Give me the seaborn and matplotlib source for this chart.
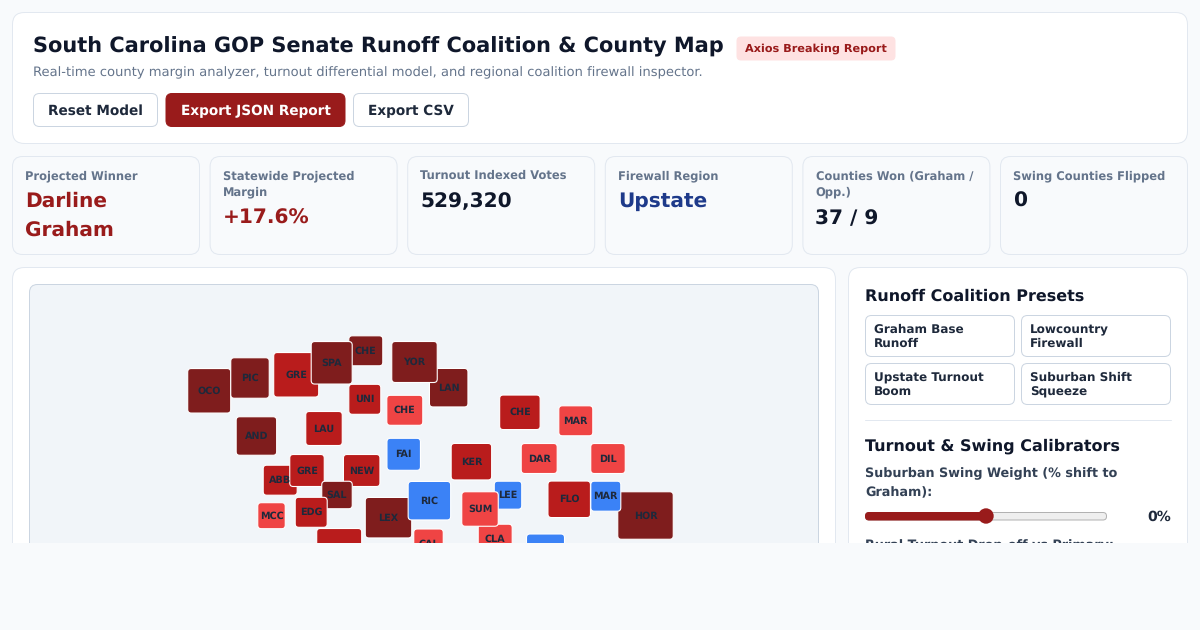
#!/usr/bin/env python3
"""
South Carolina runoff dashboard, county tile map and panels
"""

import pandas as pd
import matplotlib.pyplot as plt
import seaborn as sns
from matplotlib.patches import FancyBboxPatch, Rectangle, Circle
from matplotlib.path import Path

# Header
title = 'South Carolina GOP Senate Runoff Coalition & County Map'
badge = 'Axios Breaking Report'
subtitle = 'Real-time county margin analyzer, turnout differential model, and regional coalition firewall inspector.'
buttons = ['Reset Model', 'Export JSON Report', 'Export CSV']

# KPI cards
kpi_labels = ['Projected Winner', 'Statewide Projected\nMargin', 'Turnout Indexed Votes',
              'Firewall Region', 'Counties Won (Graham /\nOpp.)', 'Swing Counties Flipped']
kpi_values = ['Darline\nGraham', '+17.6%', '529,320', 'Upstate', '37 / 9', '0']

# County tiles, in draw order (map units)
county_names = ['OCO', 'PIC', 'GRE', 'CHE', 'SPA', 'LAN', 'YOR', 'UNI', 'CHE', 'AND', 'LAU', 'FAI',
                'ABB', 'GRE', 'NEW', 'SAL', 'MCC', 'EDG', 'LEX', 'RIC', 'AIK', 'CAL',
                'CHE', 'MAR', 'KER', 'DAR', 'DIL', 'LEE', 'CLA', 'SUM', 'FLO', 'HOR', 'MAR', 'WIL']
county_x = [180.2, 221.0, 267.2, 336.8, 302.7, 419.7, 385.5, 335.8, 375.8, 227.4, 295.0, 374.7,
            251.2, 278.0, 332.7, 308.0, 242.5, 282.2, 359.5, 400.4, 310.2, 399.5,
            490.9, 546.8, 442.4, 510.2, 579.0, 479.0, 466.2, 451.0, 540.2, 616.5, 576.8, 516.5]
county_y = [106.8, 94.0, 90.8, 66.8, 78.8, 103.7, 78.0, 115.3, 126.3, 152.0, 144.5, 170.3,
            196.2, 186.5, 186.5, 211.0, 231.7, 228.3, 233.7, 216.7, 265.0, 260.0,
            128.3, 136.8, 177.7, 174.5, 174.5, 211.2, 255.2, 225.0, 215.3, 231.5, 212.2, 268.0]
county_w = [42.0, 37.5, 44.0, 33.0, 40.0, 37.5, 44.5, 31.0, 35.0, 39.5, 35.5, 32.5,
            33.0, 33.5, 35.5, 29.5, 26.5, 31.0, 45.5, 41.5, 44.0, 28.5,
            39.5, 33.0, 39.5, 35.0, 33.5, 26.5, 33.0, 35.5, 41.5, 54.5, 29.0, 37.0]
county_h = [43.5, 39.5, 43.5, 29.0, 41.5, 37.5, 40.0, 29.0, 29.0, 37.5, 33.0, 31.0,
            29.0, 31.0, 31.0, 26.5, 25.0, 29.0, 39.5, 37.5, 40.0, 29.0,
            33.5, 29.0, 35.5, 29.0, 29.0, 27.0, 29.0, 33.5, 35.5, 46.5, 29.0, 35.0]
county_tier = ['safe', 'safe', 'strong', 'safe', 'safe', 'safe', 'safe', 'strong', 'lean', 'safe', 'strong', 'opp',
               'strong', 'strong', 'strong', 'safe', 'lean', 'strong', 'safe', 'opp', 'strong', 'lean',
               'strong', 'lean', 'strong', 'lean', 'lean', 'opp', 'lean', 'lean', 'strong', 'safe', 'opp', 'opp']

# Right hand panel
preset_title = 'Runoff Coalition Presets'
presets = ['Graham Base\nRunoff', 'Lowcountry\nFirewall', 'Upstate Turnout\nBoom', 'Suburban Shift\nSqueeze']
calib_title = 'Turnout & Swing Calibrators'
slider_label = 'Suburban Swing Weight (% shift to\nGraham):'
slider_range = [-20, 20]
slider_value = 0
next_label = 'Rural Turnout Drop-off vs Primary:'

tier_palette = {'safe': '#7f1d1d', 'strong': '#b91c1c', 'lean': '#ef4444', 'opp': '#3b82f6'}

INK = '#0f172a'
SLATE = '#1e293b'
MUTED = '#64748b'
BORDER = '#e2e8f0'
LINE = '#cbd5e1'
RED = '#991b1b'
BLUE = '#1e3a8a'
PAGE = '#f8fafc'


def px(size):
    """CSS pixels to points at dpi 100"""
    return size * 0.72


def box(ax, x0, y0, x1, y1, radius, face, edge=None, lw=1.0, zorder=1):
    patch = FancyBboxPatch((x0 + radius, y0 + radius), x1 - x0 - 2 * radius, y1 - y0 - 2 * radius,
                           boxstyle=f'round,pad={radius},rounding_size={radius}',
                           facecolor=face, edgecolor=edge if edge else face,
                           linewidth=lw * 0.72, zorder=zorder)
    ax.add_patch(patch)


def tile_marker(w, h, r=3.5):
    """Rounded rectangle path for one county tile"""
    a, b = w / 2, h / 2
    verts = [(-a + r, -b), (a - r, -b), (a, -b), (a, -b + r), (a, b - r), (a, b), (a - r, b),
             (-a + r, b), (-a, b), (-a, b - r), (-a, -b + r), (-a, -b), (-a + r, -b)]
    codes = [Path.MOVETO, Path.LINETO, Path.CURVE3, Path.CURVE3, Path.LINETO, Path.CURVE3, Path.CURVE3,
             Path.LINETO, Path.CURVE3, Path.CURVE3, Path.LINETO, Path.CURVE3, Path.CURVE3]
    return Path(verts, codes)


def draw_page(ax):
    # Header card
    box(ax, 12.5, 12.5, 1187.5, 143.5, 12, 'white', BORDER)
    ax.text(33, 52, title, fontsize=px(20.83), fontweight='bold', color=INK)
    box(ax, 737, 37, 895, 60, 4, '#fee2e2')
    ax.text(816, 52, badge, fontsize=px(11.2), fontweight='bold', color=RED, ha='center')
    ax.text(33, 76, subtitle, fontsize=px(13.08), color=MUTED)

    spans = [(33.5, 157.5), (166, 345), (353.5, 468.5)]
    for i, (name, (x0, x1)) in enumerate(zip(buttons, spans)):
        solid = i == 1
        box(ax, x0, 93.5, x1, 126.5, 6, RED if solid else 'white', RED if solid else LINE)
        ax.text((x0 + x1) / 2, 115, name, fontsize=px(13.6), fontweight='bold',
                color='white' if solid else SLATE, ha='center')

    # KPI cards
    kpi_colors = [RED, RED, INK, BLUE, INK, INK]
    for i, (label, value) in enumerate(zip(kpi_labels, kpi_values)):
        x0 = 12.5 + i * 197.6
        box(ax, x0, 156.5, x0 + 187, 254.5, 10, PAGE, BORDER)
        lines = label.split('\n')
        for j, line in enumerate(lines):
            ax.text(x0 + 12.8, 179 + j * 16.7, line, fontsize=px(11.52), fontweight='bold', color=MUTED)
        base = 207 + (len(lines) - 1) * 16.7
        for j, line in enumerate(value.split('\n')):
            ax.text(x0 + 12.5, base + j * 29, line, fontsize=px(20.2), fontweight='bold', color=kpi_colors[i])

    # Map card and map panel
    box(ax, 12.5, 267.5, 835.5, 640, 12, 'white', BORDER)
    box(ax, 29.5, 284.5, 818.5, 640, 8, '#f1f5f9', LINE)

    # Right card
    box(ax, 848.5, 267.5, 1187.5, 640, 12, 'white', BORDER)
    ax.text(865, 300.5, preset_title, fontsize=px(16), fontweight='bold', color=INK)
    for i, name in enumerate(presets):
        x0 = 865.5 + (i % 2) * 156
        y0 = 315.5 + (i // 2) * 48
        box(ax, x0, y0, x0 + 149, y0 + 41, 6, 'white', LINE)
        for j, line in enumerate(name.split('\n')):
            ax.text(x0 + 8.5, y0 + 17.5 + j * 14, line, fontsize=px(12.06), fontweight='bold', color=SLATE)

    ax.plot([865, 1171], [419.5, 419.5], color=BORDER, lw=0.72)
    ax.text(865, 450.3, calib_title, fontsize=px(16), fontweight='bold', color=INK)
    for j, line in enumerate(slider_label.split('\n')):
        ax.text(865, 477.5 + j * 19, line, fontsize=px(12.8), fontweight='bold', color='#334155')

    # Slider, thumb placed from the value
    x0, x1 = 865.5, 1106.5
    frac = (slider_value - slider_range[0]) / (slider_range[1] - slider_range[0])
    thumb = x0 + frac * (x1 - x0)
    box(ax, x0, 512.5, x1, 520, 3.5, '#efefef', '#b2b2b2')
    box(ax, x0, 512.5, thumb, 520, 3.5, RED)
    ax.add_patch(Circle((thumb, 516), 7.7, facecolor=RED, edgecolor='none', zorder=2))
    ax.text(1171, 521, f'{slider_value}%', fontsize=px(14), fontweight='bold', color=SLATE, ha='right')
    ax.text(865, 549, next_label, fontsize=px(12.8), fontweight='bold', color='#334155')

    # The screenshot stops here
    ax.add_patch(Rectangle((0, 543), 1200, 87, facecolor=PAGE, edgecolor='none', zorder=5))


def draw_map(ax, df):
    # one marker per tile so each keeps its own aspect
    markers = {row.uid: tile_marker(row.w + 1, row.h + 1) for row in df.itertuples()}
    side = ((df[['w', 'h']].max(axis=1) + 1) * 0.72) ** 2
    df = df.assign(area=side)
    sns.scatterplot(data=df, x='x', y='y', hue='tier', palette=tier_palette,
                    style='uid', markers=markers,
                    size='area', sizes={v: v for v in df['area'].unique()},
                    edgecolor='white', linewidth=0.8, alpha=1.0, legend=False, ax=ax, zorder=2)
    for row in df.itertuples():
        ax.text(row.x, row.y + 0.3, row.name, fontsize=px(9.6), fontweight='bold', color=SLATE,
                ha='center', va='center', clip_on=True, zorder=3 + row.Index * 0.001)
    ax.set_xlim(0, 790)
    ax.set_ylim(259, 0)
    ax.set_axis_off()


def main():
    sns.set_theme(style='white')
    plt.rcParams['font.family'] = ['DejaVu Sans']
    plt.rcParams['text.hinting'] = 'none'
    plt.rcParams['text.hinting_factor'] = 8

    df = pd.DataFrame({'name': county_names, 'x': county_x, 'y': county_y,
                       'w': county_w, 'h': county_h, 'tier': county_tier})
    df['uid'] = [f'{n}{i}' for i, n in enumerate(df['name'])]

    fig = plt.figure(figsize=(12, 6.3), dpi=100, facecolor=PAGE)
    page = fig.add_axes([0, 0, 1, 1])
    page.set_xlim(0, 1200)
    page.set_ylim(630, 0)
    page.set_axis_off()
    draw_page(page)

    tiles = fig.add_axes([29 / 1200, 1 - 543 / 630, 790 / 1200, 259 / 630])
    tiles.patch.set_alpha(0)
    draw_map(tiles, df)

    fig.savefig('out.png', dpi=100, facecolor=PAGE)


if __name__ == '__main__':
    main()
